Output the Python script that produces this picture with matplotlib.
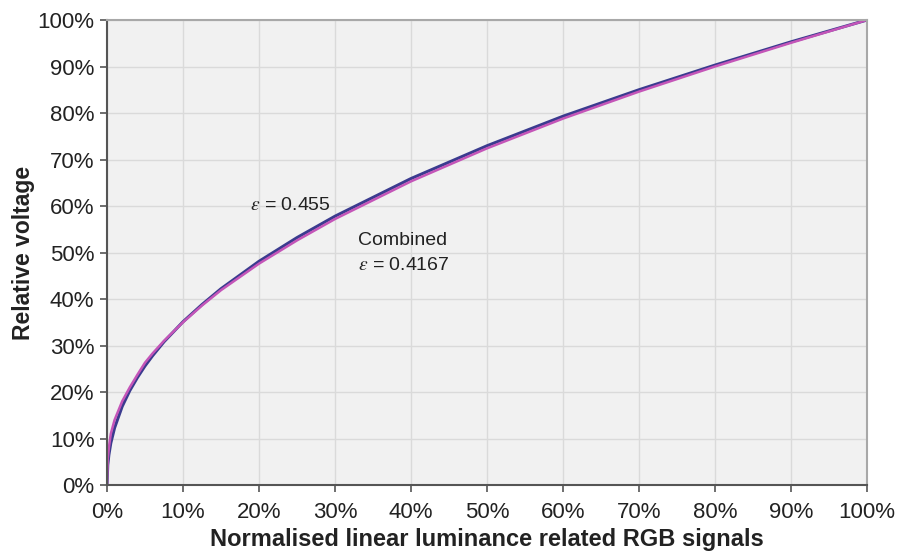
import matplotlib
matplotlib.use("Agg")
import matplotlib.pyplot as plt
from matplotlib.ticker import PercentFormatter, MultipleLocator

# values (in %)
lum = [0, 0.1, 0.25, 0.5, 1, 2, 3, 4, 5, 6, 7.5, 10, 12.5, 15, 20, 25, 30,
       40, 50, 60, 70, 80, 90, 100]
v_0455 = [0, 4.3, 6.5, 9.0, 12.3, 16.9, 20.3, 23.1, 25.6, 27.8, 30.8, 35.1,
          38.8, 42.2, 48.1, 53.2, 57.8, 65.9, 72.95, 79.3, 85.0, 90.3, 95.3, 100]
v_combined = [0, 5.5, 8.0, 11.0, 14.0, 18.0, 21.0, 23.7, 26.3, 28.3, 31.0, 35.0,
              38.6, 41.9, 47.6, 52.6, 57.2, 65.3, 72.4, 78.8, 84.6, 90.0, 95.1, 100]

label_0455 = r"$\varepsilon$ = 0.455"
label_comb1 = "Combined"
label_comb2 = r"$\varepsilon$ = 0.4167"

plt.rcParams['font.family'] = ['Liberation Sans', 'DejaVu Sans']
plt.rcParams['mathtext.fontset'] = 'stix'

fig = plt.figure(figsize=(9.02, 5.56), dpi=100)
ax = fig.add_axes([0.1186, 0.1277, 0.8426, 0.8363])
ax.set_facecolor('#f1f1f1')

ax.plot(lum, v_0455, color='#3b3b8f', lw=2.2, solid_capstyle='round')
ax.plot(lum, v_combined, color='#c455b8', lw=1.8, solid_capstyle='round')

ax.set_xlim(0, 100)
ax.set_ylim(0, 100)
ax.xaxis.set_major_locator(MultipleLocator(10))
ax.yaxis.set_major_locator(MultipleLocator(10))
ax.xaxis.set_major_formatter(PercentFormatter(decimals=0))
ax.yaxis.set_major_formatter(PercentFormatter(decimals=0))
ax.grid(True, color='#dadada', lw=1)
ax.set_axisbelow(True)

for s in ['left', 'bottom']:
    ax.spines[s].set_color('#555555')
    ax.spines[s].set_linewidth(1.5)
for s in ['top', 'right']:
    ax.spines[s].set_color('#a8a8a8')
    ax.spines[s].set_linewidth(1.5)

ax.tick_params(direction='out', length=5, width=1.2, color='#555555',
               labelsize=16, labelcolor='#222222')
ax.tick_params(axis='x', pad=7)
ax.tick_params(axis='y', pad=4)

ax.set_xlabel("Normalised linear luminance related RGB signals",
              fontsize=17, fontweight='bold', color='#222222', labelpad=4)
ax.set_ylabel("Relative voltage", fontsize=16.5, fontweight='bold',
              color='#222222', labelpad=2)

ax.text(18.8, 60.2, label_0455, fontsize=14, va='center', ha='left', color='#222222')
ax.text(33.0, 52.6, label_comb1, fontsize=14, va='center', ha='left', color='#222222')
ax.text(33.0, 47.3, label_comb2, fontsize=14, va='center', ha='left', color='#222222')

fig.savefig("out.png", dpi=100)
